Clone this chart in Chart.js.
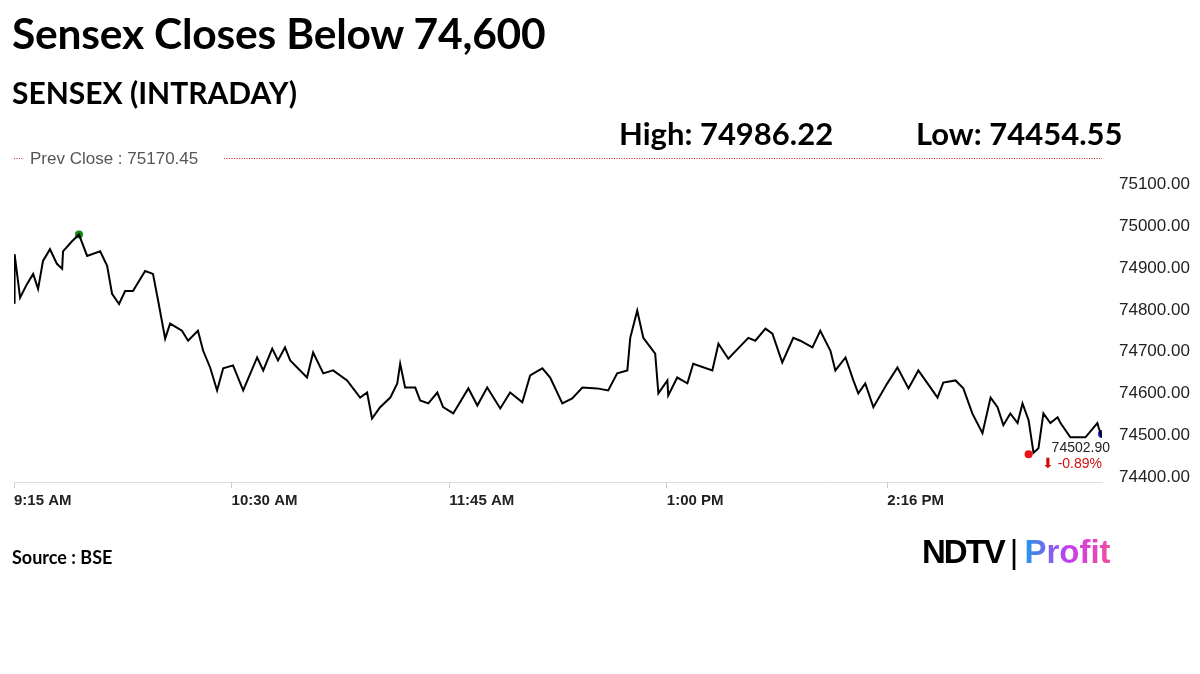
<!DOCTYPE html>
<html><head><meta charset="utf-8">
<script src="https://cdn.jsdelivr.net/npm/chart.js@4.4.1/dist/chart.umd.min.js"></script>
<style>
html,body{margin:0;padding:0;background:#fff;width:1200px;height:674px;overflow:hidden}
#wrap{position:relative;width:1200px;height:674px}
canvas{position:absolute;left:0;top:0}
.t{position:absolute;font-family:Lato,"Open Sans",sans-serif;font-weight:700;color:#000;white-space:nowrap}
</style></head><body>
<div id="wrap">
<canvas id="c" width="1200" height="674"></canvas>
<div class="t" style="left:12px;top:7px;font-size:42.5px;letter-spacing:-0.2px">Sensex Closes Below 74,600</div>
<div class="t" style="left:12px;top:74px;font-size:30px">SENSEX (INTRADAY)</div>
<div class="t" style="left:619px;top:114px;font-size:31px">High: 74986.22</div>
<div class="t" style="left:916px;top:114px;font-size:31px">Low: 74454.55</div>
<div class="t" style="left:12px;top:546px;font-size:18px">Source : BSE</div>
<div class="t" style="left:922px;top:533px;font-size:33px;font-family:'Liberation Sans',Arial,sans-serif;letter-spacing:-2px">NDTV<span style="font-weight:400;margin:0 6px;letter-spacing:0">|</span><span style="background:linear-gradient(90deg,#1e9be8,#c43cf0,#f04fa0);-webkit-background-clip:text;background-clip:text;color:transparent;letter-spacing:0">Profit</span></div>
</div>
<script>
const minutes=[0,0.2,2.1,4.5,6.6,8.3,10,12.4,14.8,16.6,16.9,20,22.4,25.2,29.7,32.1,33.8,36.2,38.3,41,45.2,47.9,49.7,52.1,53.8,57.9,60,63.4,65.2,67.6,70,72.1,75.5,79,83.8,85.9,89,91,93.4,95.2,101,103.1,106.6,110,114.8,119.3,121.7,123.4,126.2,129.7,132.1,133.1,
134.8,138.3,140,142.8,145.9,147.9,151.4,156.6,159.7,163.1,167.6,171,175.2,177.9,182.1,184.8,189,192.4,195.9,201,204.8,207.9,211.4,212.4,214.8,216.9,221,222.1,225.2,225.5,228.6,232.1,234.1,240.7,242.8,246.2,253.1,255.5,259,261.4,264.8,268.6,271,
275.2,277.9,281.4,283.1,286.6,289.3,291,293.4,296.2,301,304.5,308.3,311.7,315.9,318.3,320.3,324.5,327.2,330.3,333.8,336.6,339,341,343.4,345.9,347.6,349.7,351.4,353.1,354.8,357.2,359.7,360.7,364.1,367.6,369.3,373.4,373.8,375];
const values=[74817,74933,74829,74862,74886,74850,74917,74945,74910,74898,74940,74964,74980,74929,74940,74905,74838,74814,74845,74845,74893,74886,74821,74731,74767,74750,74726,74750,74702,74662,74607,74660,74667,74607,74686,74655,74707,74679,74710,74679,74638,74698,74648,74655,74631,74590,74602,74540,74567,74590,74624,74671,
74614,74614,74583,74576,74602,74567,74552,74612,74571,74614,74564,74602,74579,74643,74660,74638,74576,74588,74614,74612,74607,74648,74655,74733,74798,74733,74695,74600,74631,74595,74638,74624,74671,74655,74719,74683,74733,74726,74755,74743,74674,74733,74726,
74710,74750,74702,74655,74686,74631,74600,74624,74567,74624,74662,74612,74655,74614,74590,74626,74631,74612,74552,74505,74590,74567,74524,74552,74529,74576,74536,74458,74469,74552,74529,74543,74529,74495,74495,74495,74529,74519,74495,74502.9];
const tickMinutes=[0,75,150,225,301];
const tickLabels=["9:15 AM","10:30 AM","11:45 AM","1:00 PM","2:16 PM"];
const yTicks=[74400,74500,74600,74700,74800,74900,75000,75100];
const prevClose=75170.45;
const highPoint={x:22.4,y:74980};
const lowPoint={x:349.7,y:74454.55};
const closePoint={x:375,y:74502.9};
const closeText="74502.90", changeText="⬇ -0.89%";

const line=minutes.map((m,i)=>({x:m,y:values[i]}));
const overlay={id:'ov',
 beforeDatasetsDraw(ch){const {ctx,chartArea:a,scales:{x,y}}=ch;
  const py=Math.round(y.getPixelForValue(prevClose))+3.5;
  ctx.save();ctx.strokeStyle='#d02020';ctx.lineWidth=1;ctx.setLineDash([1,1.5]);
  ctx.beginPath();ctx.moveTo(a.left,py);ctx.lineTo(a.right,py);ctx.stroke();
  ctx.beginPath();ctx.rect(0,150,1200,30);ctx.clip();
  ctx.fillStyle='#fff';ctx.fillRect(24,py-12,200,24);
  ctx.fillStyle='#555';ctx.font='17px "Liberation Sans",Arial';ctx.textBaseline='middle';
  ctx.fillText('Prev Close : '+prevClose.toFixed(2),30,py+1);ctx.restore();},
 afterDraw(ch){const {ctx,scales:{x,y}}=ch;
  const px=x.getPixelForValue(closePoint.x),py=y.getPixelForValue(closePoint.y);
  ctx.save();ctx.textAlign='right';ctx.font='14px "Liberation Sans",Arial';ctx.fillStyle='#222';
  ctx.fillText(closeText,px+8,py+18);ctx.fillStyle='#d01010';ctx.fillText(changeText,px,py+34);ctx.restore();}
};
new Chart(document.getElementById('c'),{type:'line',
 data:{datasets:[
  {data:line,borderColor:'#000',borderWidth:2,pointRadius:0,tension:0},
  {data:[highPoint],pointRadius:4,pointBackgroundColor:'#118811',pointBorderWidth:0,showLine:false},
  {data:[lowPoint],pointRadius:4,pointBackgroundColor:'#ee1111',pointBorderWidth:0,showLine:false},
  {data:[closePoint],pointRadius:4,pointBackgroundColor:'#1122cc',pointBorderWidth:0,showLine:false,clip:{left:0,top:0,right:0,bottom:0}}]},
 options:{responsive:false,animation:false,
  layout:{padding:{left:14,top:151,right:0,bottom:0}},
  plugins:{legend:{display:false},tooltip:{enabled:false}},
  scales:{
   x:{type:'linear',min:0,max:375,
    afterBuildTicks(s){s.ticks=tickMinutes.map(v=>({value:v}));},
    afterFit(s){s.height=192;},
    grid:{drawOnChartArea:false,tickLength:6,color:'#ccc'},border:{color:'#ddd'},
    ticks:{align:'start',padding:4,color:'#222',font:{family:'"Liberation Sans",Arial',size:15,weight:'bold'},
     callback:(v)=>{const i=tickMinutes.indexOf(v);return i>=0?tickLabels[i]:'';}}},
   y:{position:'right',min:74388,max:75180,
    afterBuildTicks(s){s.ticks=yTicks.map(v=>({value:v}));},
    afterFit(s){s.width=98;},
    grid:{display:false},border:{display:false},
    ticks:{padding:9,color:'#222',font:{family:'"Liberation Sans",Arial',size:17},callback:v=>v.toFixed(2)}}}},
 plugins:[overlay]});
</script></body></html>
